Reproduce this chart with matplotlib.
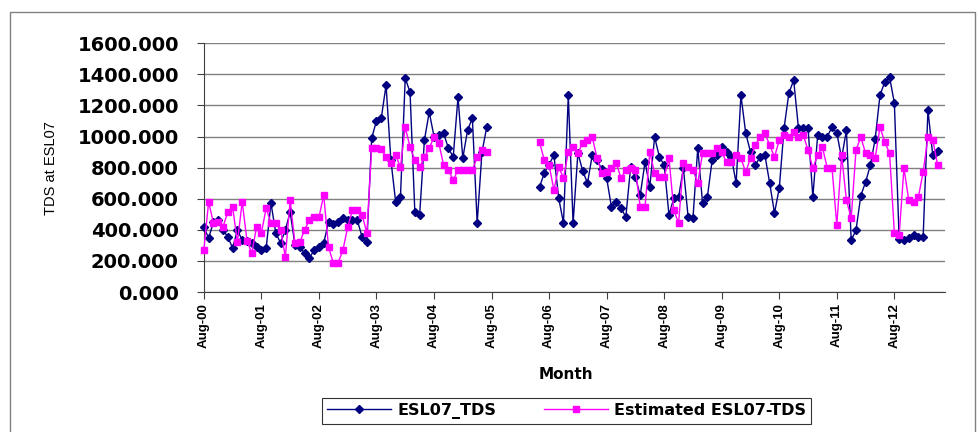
import numpy as np
import matplotlib
matplotlib.use("Agg")
import matplotlib.pyplot as plt
from matplotlib.patches import Rectangle

# month index 0 = Aug-00
start1 = 0
start2 = 70

tds_seg1 = [418, 347, 450, 463, 400, 354, 283, 398, 334, 330,
            315, 290, 270, 283, 572, 380, 315, 400, 514, 302,
            290, 250, 218, 270, 290, 315, 450, 440, 450, 475,
            463, 460, 463, 354, 320, 990, 1100, 1118, 1330, 850,
            580, 610, 1375, 1285, 515, 495, 977, 1157, 1000, 1010,
            1020, 925, 868, 1253, 861, 1041, 1118, 443, 900, 1060]
est_seg1 = [270, 580, 443, 450, 420, 514, 548, 320, 580, 330,
            250, 420, 380, 540, 443, 443, 400, 225, 590, 315,
            320, 398, 463, 482, 480, 623, 290, 186, 186, 270,
            418, 527, 527, 495, 380, 925, 925, 920, 868, 830,
            880, 803, 1060, 932, 848, 803, 868, 925, 996, 958,
            816, 784, 720, 784, 784, 784, 784, 868, 913, 900]

tds_seg2 = [675, 765, 820, 880, 604, 443, 1266, 443, 893, 780,
            700, 880, 848, 790, 733, 548, 580, 540, 482, 803,
            739, 623, 835, 675, 996, 870, 816, 495, 604, 610,
            797, 480, 475, 925, 572, 610, 848, 880, 932, 900,
            870, 700, 1266, 1022, 900, 816, 868, 880, 700, 508,
            668, 1054, 1279, 1362, 1054, 1054, 1054, 610, 1009, 996,
            1000, 1060, 1022, 861, 1041, 334, 398, 620, 707, 816,
            985, 1266, 1350, 1382, 1215, 340, 334, 345, 366, 354,
            354, 1170, 880, 910]
est_seg2 = [964, 848, 816, 656, 803, 733, 900, 932, 893, 958,
            977, 996, 861, 765, 771, 797, 829, 733, 784, 797,
            784, 548, 548, 900, 765, 739, 739, 861, 527, 443,
            829, 803, 784, 700, 893, 893, 893, 925, 900, 835,
            835, 880, 861, 771, 861, 945, 996, 1022, 945, 868,
            977, 1009, 996, 1028, 996, 1009, 913, 797, 880, 932,
            797, 797, 430, 880, 591, 475, 913, 996, 893, 880,
            861, 1060, 964, 893, 380, 366, 797, 591, 578, 610,
            771, 996, 980, 820]

tick_labels = ["Aug-00", "Aug-01", "Aug-02", "Aug-03", "Aug-04", "Aug-05", "Aug-06",
               "Aug-07", "Aug-08", "Aug-09", "Aug-10", "Aug-11", "Aug-12"]

# build full monthly series with a gap
n = start2 + len(tds_seg2)
months = np.arange(n)
tds = np.full(n, np.nan)
est = np.full(n, np.nan)
tds[start1:start1 + len(tds_seg1)] = tds_seg1
est[start1:start1 + len(est_seg1)] = est_seg1
tds[start2:] = tds_seg2
est[start2:] = est_seg2

plt.rcParams['font.family'] = ['Liberation Sans', 'DejaVu Sans']

fig = plt.figure(figsize=(9.8, 4.32), dpi=100)
ax = fig.add_axes([0.208, 0.324, 0.756, 0.576])

# outer chart border
fig.patches.append(Rectangle((10 / 980, -0.01), 965 / 980, 1 - 12 / 432 + 0.01,
                             transform=fig.transFigure, fill=False,
                             edgecolor='#808080', linewidth=1.0))

ax.plot(months, tds, color='#000080', linewidth=1.0, marker='D', markersize=4,
        label='ESL07_TDS', clip_on=False, zorder=3)
ax.plot(months, est, color='#FF00FF', linewidth=1.0, marker='s', markersize=5,
        label='Estimated ESL07-TDS', clip_on=False, zorder=4)

ax.set_ylim(0, 1600)
ax.set_yticks(np.arange(0, 1601, 200))
ax.set_yticklabels([f"{v:.3f}" for v in np.arange(0, 1601, 200)],
                   fontsize=14, fontweight='bold', family='DejaVu Sans')
ax.set_xlim(0, 154.5)
ax.set_xticks(np.arange(len(tick_labels)) * 12)
ax.set_xticklabels(tick_labels, rotation=90, fontsize=9.5, fontweight='bold')

ax.tick_params(axis='both', direction='out', length=5, color='#404040', pad=3)
ax.tick_params(axis='y', pad=13)

ax.yaxis.grid(True, color='#808080', linewidth=1.0)
ax.set_axisbelow(True)
for s in ['top', 'right']:
    ax.spines[s].set_visible(False)
for s in ['left', 'bottom']:
    ax.spines[s].set_color('#404040')

ax.set_ylabel('TDS at ESL07', fontsize=10.5, labelpad=14,
              family=['Liberation Sans Narrow', 'Liberation Sans'])
ax.set_xlabel('Month', fontsize=11, fontweight='bold', family='DejaVu Sans')
ax.xaxis.set_label_coords(0.489, -0.30)

leg = fig.legend(loc='center', bbox_to_anchor=(0.578, 0.049), ncol=2,
                 frameon=True, fancybox=False, edgecolor='black',
                 prop={'weight': 'bold', 'size': 11.5, 'family': 'DejaVu Sans'},
                 handlelength=4.0, columnspacing=3.0, borderpad=0.3,
                 handletextpad=0.4)
leg.get_frame().set_linewidth(0.8)

fig.savefig('out.png', dpi=100)
